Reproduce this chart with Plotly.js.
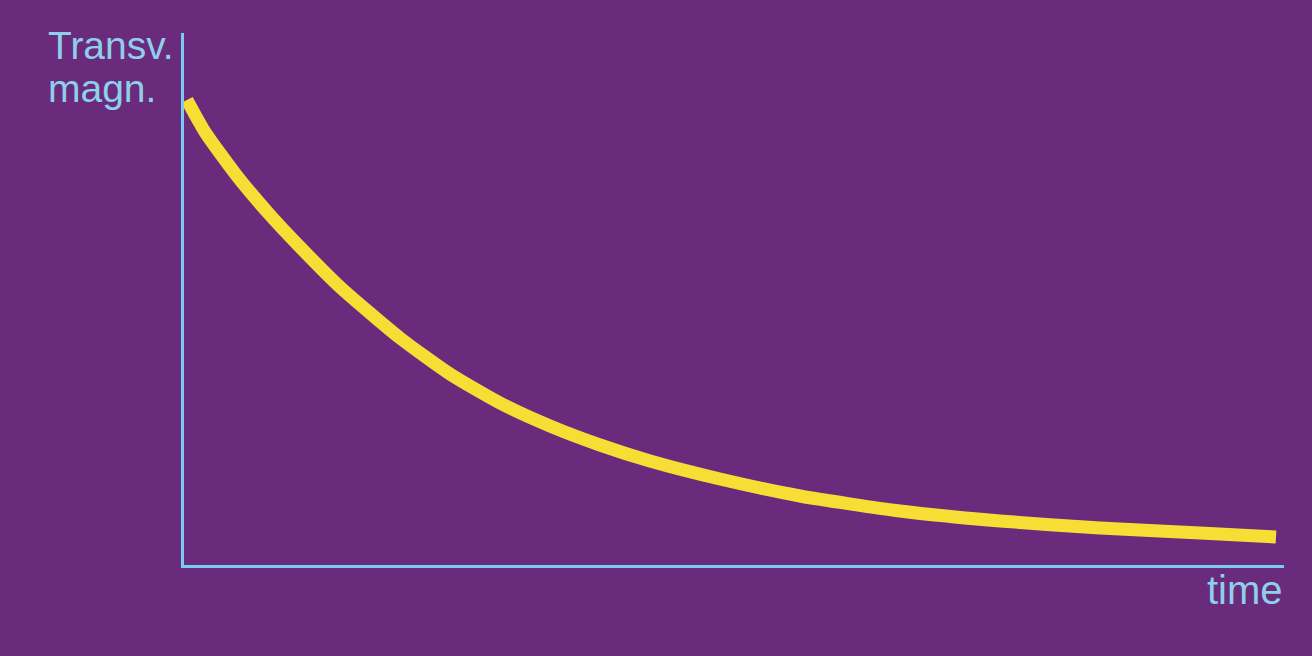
<!DOCTYPE html>
<html>
<head>
<meta charset="utf-8">
<script src="https://cdn.plot.ly/plotly-3.0.1.min.js"></script>
<style>
html,body{margin:0;padding:0;background:#6a2b7c;}
#chart{width:1312px;height:656px;}
</style>
</head>
<body>
<div id="chart"></div>
<script>
// (arbitrary units)
const time = [0.03, 0.21, 0.53, 0.86, 1.16, 1.56, 2.16, 2.66, 3.16, 3.66, 4.16, 4.66, 5.36, 6.16, 7.16, 8.16, 9.16, 10.16, 10.92];
const magn = [4.65, 4.33, 3.89, 3.50, 3.18, 2.78, 2.27, 1.91, 1.62, 1.39, 1.20, 1.04, 0.86, 0.69, 0.54, 0.44, 0.37, 0.32, 0.28];
const yLabelLines = ["Transv.", "magn."];
const xLabel = "time";

const bg = "#6a2b7c";
const axisCol = "#78ccf4";
const textCol = "#8fcfea";
const curveCol = "#f8de34";

const trace = {
  x: time, y: magn, type: "scatter", mode: "lines",
  line: {color: curveCol, width: 13, shape: "spline", smoothing: 0.6},
  hoverinfo: "skip"
};

const fontY = {family: "Liberation Sans, Arial, sans-serif", size: 39, color: textCol};
const fontX = {family: "Liberation Sans, Arial, sans-serif", size: 40, color: textCol};

const layout = {
  width: 1312, height: 656,
  paper_bgcolor: bg, plot_bgcolor: bg,
  margin: {l: 184, r: 28, t: 33, b: 91, pad: 0},
  showlegend: false,
  xaxis: {range: [0, 11], showline: true, linecolor: axisCol, linewidth: 3,
          showgrid: false, zeroline: false, showticklabels: false, ticks: "", fixedrange: true},
  yaxis: {range: [0, 5.32], showline: true, linecolor: axisCol, linewidth: 3,
          showgrid: false, zeroline: false, showticklabels: false, ticks: "", fixedrange: true},
  annotations: [
    {text: yLabelLines[0], xref: "paper", yref: "paper", x: -0.1245, y: (565-68)/532,
     xanchor: "left", yanchor: "bottom", showarrow: false, font: fontY, borderpad: 0},
    {text: yLabelLines[1], xref: "paper", yref: "paper", x: -0.1245, y: (565-111)/532,
     xanchor: "left", yanchor: "bottom", showarrow: false, font: fontY, borderpad: 0},
    {text: xLabel, xref: "paper", yref: "paper", x: 1.0, y: (565-613)/532,
     xanchor: "right", yanchor: "bottom", showarrow: false, font: fontX, borderpad: 0}
  ]
};

Plotly.newPlot("chart", [trace], layout, {displayModeBar: false, staticPlot: true});
</script>
</body>
</html>
